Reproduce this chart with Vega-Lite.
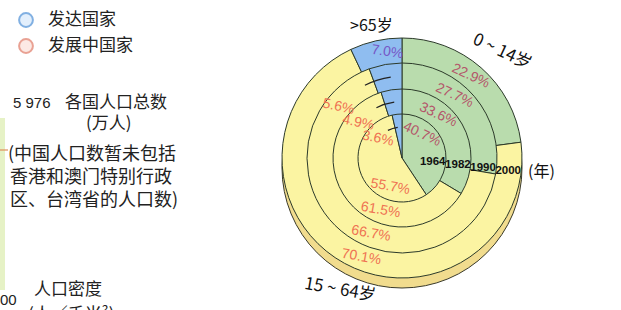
{
  "$schema": "https://vega.github.io/schema/vega-lite/v6.json",
  "width": 621,
  "height": 310,
  "autosize": {"type": "none"},
  "padding": 0,
  "background": "#ffffff",
  "config": {"view": {"stroke": null}},
  "datasets": {
    "pop": [
      {"year": "1964", "group": "0~14岁", "k": 1, "share": 0.407},
      {"year": "1964", "group": "15~64岁", "k": 2, "share": 0.557},
      {"year": "1964", "group": ">65岁", "k": 3, "share": 0.036},
      {"year": "1982", "group": "0~14岁", "k": 1, "share": 0.336},
      {"year": "1982", "group": "15~64岁", "k": 2, "share": 0.615},
      {"year": "1982", "group": ">65岁", "k": 3, "share": 0.049},
      {"year": "1990", "group": "0~14岁", "k": 1, "share": 0.277},
      {"year": "1990", "group": "15~64岁", "k": 2, "share": 0.667},
      {"year": "1990", "group": ">65岁", "k": 3, "share": 0.056},
      {"year": "2000", "group": "0~14岁", "k": 1, "share": 0.229},
      {"year": "2000", "group": "15~64岁", "k": 2, "share": 0.701},
      {"year": "2000", "group": ">65岁", "k": 3, "share": 0.070}
    ]
  },
  "layer": [
    {
      "data": {"values": [{"x": 0, "x2": 5, "y": 118, "y2": 290}]},
      "mark": {"type": "rect", "fill": "#e6f2c6"},
      "encoding": {
        "x": {"field": "x", "type": "quantitative", "scale": {"domain": [0, 621], "nice": false, "zero": false}, "axis": null},
        "x2": {"field": "x2"},
        "y": {"field": "y", "type": "quantitative", "scale": {"domain": [0, 310], "nice": false, "zero": false, "reverse": true}, "axis": null},
        "y2": {"field": "y2"}
      }
    },
    {
      "data": {"values": [{"x": 0, "x2": 8, "y": 150}]},
      "mark": {"type": "rule", "stroke": "#e0905a", "strokeWidth": 1.2},
      "encoding": {
        "x": {"field": "x", "type": "quantitative"},
        "x2": {"field": "x2"},
        "y": {"field": "y", "type": "quantitative"}
      }
    },
    {
      "data": {"values": [{"x": 26, "y": 20, "kind": "发达国家"}, {"x": 26, "y": 46, "kind": "发展中国家"}]},
      "mark": {"type": "point", "shape": "circle", "size": 190, "strokeWidth": 2, "filled": false},
      "encoding": {
        "x": {"field": "x", "type": "quantitative"},
        "y": {"field": "y", "type": "quantitative"},
        "stroke": {"field": "kind", "type": "nominal", "scale": {"domain": ["发达国家", "发展中国家"], "range": ["#4d8fd6", "#e07a66"]}, "legend": null},
        "fill": {"field": "kind", "type": "nominal", "scale": {"domain": ["发达国家", "发展中国家"], "range": ["#d8e9fb", "#fbe1d9"]}, "legend": null}
      }
    },
    {
      "data": {"values": [
        {"x": 48, "y": 20, "t": "发达国家"},
        {"x": 48, "y": 46, "t": "发展中国家"},
        {"x": 65, "y": 103, "t": "各国人口总数"},
        {"x": 86, "y": 124, "t": "(万人)"},
        {"x": 34, "y": 290, "t": "人口密度"},
        {"x": 28, "y": 315, "t": "(人／千米²)"}
      ]},
      "mark": {"type": "text", "align": "left", "baseline": "middle", "font": "Noto Sans CJK SC", "fontSize": 17, "color": "#222222"},
      "encoding": {
        "x": {"field": "x", "type": "quantitative"},
        "y": {"field": "y", "type": "quantitative"},
        "text": {"field": "t"}
      }
    },
    {
      "data": {"values": [
        {"x": 8, "y": 155, "t": "(中国人口数暂未包括"},
        {"x": 10, "y": 178, "t": "香港和澳门特别行政"},
        {"x": 10, "y": 201, "t": "区、台湾省的人口数)"}
      ]},
      "mark": {"type": "text", "align": "left", "baseline": "middle", "font": "Noto Sans CJK SC", "fontSize": 18, "color": "#222222"},
      "encoding": {
        "x": {"field": "x", "type": "quantitative"},
        "y": {"field": "y", "type": "quantitative"},
        "text": {"field": "t"}
      }
    },
    {
      "data": {"values": [
        {"x": 13, "y": 103, "t": "5 976"},
        {"x": 0, "y": 300, "t": "00"}
      ]},
      "mark": {"type": "text", "align": "left", "baseline": "middle", "font": "Liberation Sans", "fontSize": 15, "color": "#222222"},
      "encoding": {
        "x": {"field": "x", "type": "quantitative"},
        "y": {"field": "y", "type": "quantitative"},
        "text": {"field": "t"}
      }
    },
    {
      "data": {"values": [{}]},
      "mark": {"type": "arc", "fill": "#f1dc8e", "stroke": "#3a3a2a", "strokeWidth": 1, "theta": 0, "theta2": 6.2832},
      "encoding": {
        "x": {"datum": 402, "type": "quantitative"},
        "y": {"datum": 168, "type": "quantitative"},
        "radius": {"value": 120}
      }
    },
    {
      "data": {"name": "pop"},
      "transform": [{"filter": "datum.year === '2000'"}],
      "mark": {"type": "arc", "stroke": "#2c3a2a", "strokeWidth": 1},
      "encoding": {
        "x": {"datum": 402, "type": "quantitative"},
        "y": {"datum": 158, "type": "quantitative"},
        "theta": {"field": "share", "type": "quantitative", "stack": true, "scale": {"domain": [0, 1]}},
        "order": {"field": "k"},
        "color": {"field": "group", "type": "nominal", "scale": {"domain": ["0~14岁", "15~64岁", ">65岁"], "range": ["#b9dcad", "#fbf4a2", "#8fbdf0"]}, "legend": null},
        "radius": {"value": 120}
      }
    },
    {
      "data": {"name": "pop"},
      "transform": [{"filter": "datum.year === '1990'"}],
      "mark": {"type": "arc", "stroke": "#2c3a2a", "strokeWidth": 1},
      "encoding": {
        "x": {"datum": 402, "type": "quantitative"},
        "y": {"datum": 158, "type": "quantitative"},
        "theta": {"field": "share", "type": "quantitative", "stack": true},
        "order": {"field": "k"},
        "color": {"field": "group", "type": "nominal", "legend": null},
        "radius": {"value": 95}
      }
    },
    {
      "data": {"name": "pop"},
      "transform": [{"filter": "datum.year === '1982'"}],
      "mark": {"type": "arc", "stroke": "#2c3a2a", "strokeWidth": 1},
      "encoding": {
        "x": {"datum": 402, "type": "quantitative"},
        "y": {"datum": 158, "type": "quantitative"},
        "theta": {"field": "share", "type": "quantitative", "stack": true},
        "order": {"field": "k"},
        "color": {"field": "group", "type": "nominal", "legend": null},
        "radius": {"value": 69}
      }
    },
    {
      "data": {"name": "pop"},
      "transform": [{"filter": "datum.year === '1964'"}],
      "mark": {"type": "arc", "stroke": "#2c3a2a", "strokeWidth": 1},
      "encoding": {
        "x": {"datum": 402, "type": "quantitative"},
        "y": {"datum": 158, "type": "quantitative"},
        "theta": {"field": "share", "type": "quantitative", "stack": true},
        "order": {"field": "k"},
        "color": {"field": "group", "type": "nominal", "legend": null},
        "radius": {"value": 44}
      }
    },
    {
      "data": {"name": "pop"},
      "transform": [{"filter": "datum.group === '>65岁' && datum.year !== '2000'"}],
      "mark": {"type": "arc", "filled": false, "fill": null, "stroke": "#222222", "strokeWidth": 1.2},
      "encoding": {
        "x": {"datum": 402, "type": "quantitative"},
        "y": {"datum": 158, "type": "quantitative"},
        "theta": {"datum": 0.925, "type": "quantitative"},
        "theta2": {"datum": 0.978},
        "radius": {"field": "year", "type": "ordinal", "scale": {"domain": ["1964", "1982", "1990", "2000"], "range": [18.3, 119.7]}},
        "radius2": {"field": "year"}
      }
    },
    {
      "data": {"name": "pop"},
      "transform": [{"filter": "datum.group === '0~14岁'"}],
      "mark": {"type": "text", "font": "Liberation Sans", "fontSize": 14, "color": "#b4566a", "angle": 25, "align": "center", "baseline": "middle"},
      "encoding": {
        "x": {"datum": 402, "type": "quantitative"},
        "y": {"datum": 158, "type": "quantitative"},
        "theta": {"datum": 0.111, "type": "quantitative"},
        "radius": {"field": "year", "type": "ordinal"},
        "text": {"field": "share", "type": "quantitative", "format": ".1%"}
      }
    },
    {
      "data": {"name": "pop"},
      "transform": [{"filter": "datum.group === '15~64岁'"}],
      "mark": {"type": "text", "font": "Liberation Sans", "fontSize": 14, "color": "#ef7252", "angle": 10, "align": "center", "baseline": "middle"},
      "encoding": {
        "x": {"datum": 402, "type": "quantitative"},
        "y": {"datum": 158, "type": "quantitative"},
        "theta": {"datum": 0.562, "type": "quantitative"},
        "radius": {"field": "year", "type": "ordinal"},
        "text": {"field": "share", "type": "quantitative", "format": ".1%"}
      }
    },
    {
      "data": {"name": "pop"},
      "transform": [{"filter": "datum.group === '>65岁' && datum.year !== '2000'"}],
      "mark": {"type": "text", "font": "Liberation Sans", "fontSize": 14, "color": "#ef7252", "angle": 12, "align": "center", "baseline": "middle"},
      "encoding": {
        "x": {"datum": 402, "type": "quantitative"},
        "y": {"datum": 158, "type": "quantitative"},
        "theta": {"datum": 0.858, "type": "quantitative"},
        "radius": {"field": "year", "type": "ordinal"},
        "text": {"field": "share", "type": "quantitative", "format": ".1%"}
      }
    },
    {
      "data": {"name": "pop"},
      "transform": [{"filter": "datum.group === '>65岁' && datum.year === '2000'"}],
      "mark": {"type": "text", "font": "Liberation Sans", "fontSize": 14, "color": "#7657c6", "angle": 8, "align": "center", "baseline": "middle"},
      "encoding": {
        "x": {"datum": 402, "type": "quantitative"},
        "y": {"datum": 158, "type": "quantitative"},
        "theta": {"datum": 0.978, "type": "quantitative"},
        "radius": {"field": "year", "type": "ordinal"},
        "text": {"field": "share", "type": "quantitative", "format": ".1%"}
      }
    },
    {
      "data": {"name": "pop"},
      "transform": [{"filter": "datum.group === '0~14岁'"}],
      "mark": {"type": "text", "font": "Liberation Sans", "fontSize": 11.5, "fontWeight": "bold", "color": "#111111", "align": "center", "baseline": "middle"},
      "encoding": {
        "x": {"datum": 402, "type": "quantitative"},
        "y": {"datum": 158, "type": "quantitative"},
        "theta": {"datum": 0.27, "type": "quantitative"},
        "radius": {"field": "year", "type": "ordinal"},
        "text": {"field": "year"}
      }
    },
    {
      "data": {"values": [{"x": 528, "y": 172, "t": "(年)"}, {"x": 350, "y": 26, "t": ">65岁"}]},
      "mark": {"type": "text", "align": "left", "baseline": "middle", "font": "Noto Sans CJK SC", "fontSize": 16, "color": "#111111"},
      "encoding": {
        "x": {"field": "x", "type": "quantitative"},
        "y": {"field": "y", "type": "quantitative"},
        "text": {"field": "t"}
      }
    },
    {
      "data": {"values": [{"x": 502, "y": 52, "t": "0 ~ 14岁"}]},
      "mark": {"type": "text", "align": "center", "baseline": "middle", "font": "Noto Sans CJK SC", "fontSize": 17, "color": "#111111", "angle": 25},
      "encoding": {
        "x": {"field": "x", "type": "quantitative"},
        "y": {"field": "y", "type": "quantitative"},
        "text": {"field": "t"}
      }
    },
    {
      "data": {"values": [{"x": 340, "y": 290, "t": "15 ~ 64岁"}]},
      "mark": {"type": "text", "align": "center", "baseline": "middle", "font": "Noto Sans CJK SC", "fontSize": 17, "color": "#111111", "angle": 10},
      "encoding": {
        "x": {"field": "x", "type": "quantitative"},
        "y": {"field": "y", "type": "quantitative"},
        "text": {"field": "t"}
      }
    }
  ]
}
